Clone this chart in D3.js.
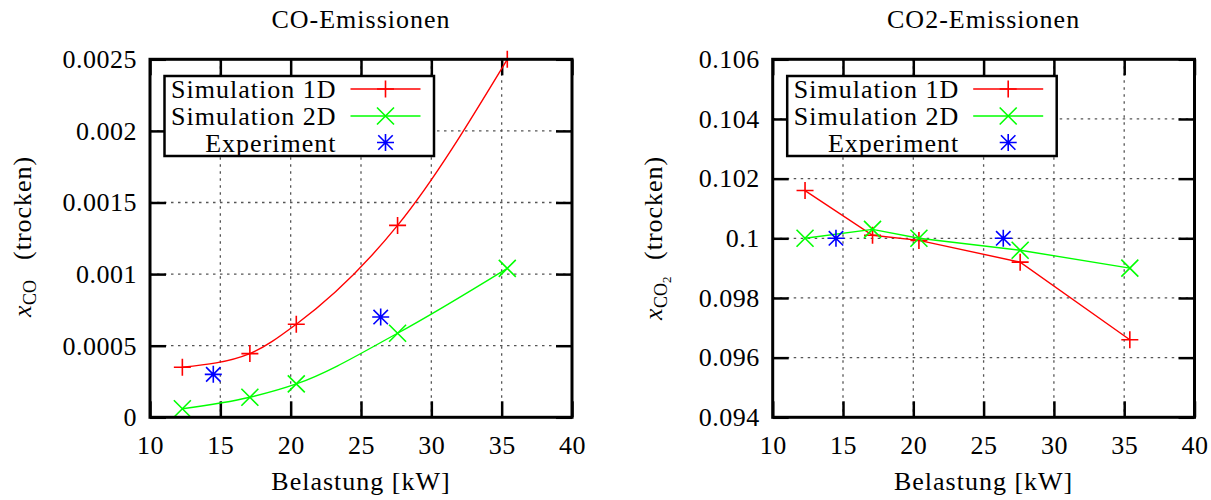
<!DOCTYPE html>
<html>
<head>
<meta charset="utf-8">
<script src="https://cdn.jsdelivr.net/npm/d3@7"></script>
<style>
  html, body { margin: 0; padding: 0; background: #fff; }
  svg { display: block; }
  svg text { font-family: "Liberation Serif", "Times New Roman", serif !important; fill: #000; }
</style>
</head>
<body>
<svg id="chart" width="1211" height="500" style="font-family: 'Liberation Serif', serif"></svg>
<script>
// Load points [kW]
const loadSim = [12.3, 17.1, 20.4, 27.6, 35.4];
const loadExp = [14.5, 26.4];

// CO mole fraction (dry)
const co1D  = [0.00035, 0.000445, 0.00065, 0.00134, 0.0025];
const co2D  = [0.00006, 0.00014, 0.000233, 0.000587, 0.00104];
const coExp = [0.0003, 0.0007];

// CO2 mole fraction (dry)
const co2Sim1D = [0.1016, 0.1001, 0.09993, 0.0992, 0.0966];
const co2Sim2D = [0.1, 0.1003, 0.1, 0.0996, 0.099];
const co2Exp   = [0.1, 0.1];

// Axis ticks and labels
const xTicks = [10, 15, 20, 25, 30, 35, 40];
const coTicks = [0, 0.0005, 0.001, 0.0015, 0.002, 0.0025];
const coTickLabels = ["0", "0.0005", "0.001", "0.0015", "0.002", "0.0025"];
const co2Ticks = [0.094, 0.096, 0.098, 0.1, 0.102, 0.104, 0.106];
const co2TickLabels = ["0.094", "0.096", "0.098", "0.1", "0.102", "0.104", "0.106"];

const seriesNames = ["Simulation 1D", "Simulation 2D", "Experiment"];
const seriesColors = ["#ff0000", "#00ff00", "#0000ff"];

const SERIF = "'Liberation Serif', 'Times New Roman', serif";
const svg = d3.select("#chart");
const FONT = 26;
const TICK = 16;
const MS = 8.5; // marker half-size

function marker(g, type, x, y, color) {
  const p = d3.path();
  if (type === "plus" || type === "star") {
    p.moveTo(x - MS, y); p.lineTo(x + MS, y);
    p.moveTo(x, y - MS); p.lineTo(x, y + MS);
  }
  if (type === "cross" || type === "star") {
    const d = type === "star" ? MS * 0.85 : MS;
    p.moveTo(x - d, y - d); p.lineTo(x + d, y + d);
    p.moveTo(x - d, y + d); p.lineTo(x + d, y - d);
  }
  g.append("path").attr("d", p.toString())
    .attr("stroke", color).attr("stroke-width", 1.6).attr("fill", "none");
}

function label(sel, size, spacing) {
  return sel.style("font-family", SERIF).style("font-size", size + "px")
    .style("letter-spacing", spacing + "px");
}

function panel(cfg) {
  const { left, right, top, bottom } = cfg;
  const x = d3.scaleLinear().domain([10, 40]).range([left, right]);
  const y = d3.scaleLinear().domain(cfg.yDomain).range([bottom, top]);
  const g = svg.append("g");

  // dotted grid
  const grid = g.append("g").attr("stroke", "#555").attr("stroke-width", 1.3)
    .attr("stroke-dasharray", "2.5,4.5");
  xTicks.slice(1, -1).forEach(t => grid.append("line")
    .attr("x1", x(t)).attr("x2", x(t)).attr("y1", top).attr("y2", bottom));
  cfg.yTicks.slice(1, -1).forEach(t => grid.append("line")
    .attr("x1", left).attr("x2", right).attr("y1", y(t)).attr("y2", y(t)));

  // axes with inward ticks on all four sides
  const styleAxis = sel => {
    sel.attr("font-family", null).attr("font-size", null);
    sel.select(".domain").remove();
    sel.selectAll(".tick line").attr("stroke", "#000").attr("stroke-width", 2.5);
    label(sel.selectAll(".tick text"), FONT, 0.5);
  };
  g.append("g").attr("transform", `translate(0,${bottom})`)
    .call(d3.axisBottom(x).tickValues(xTicks).tickSize(-TICK).tickPadding(18)
      .tickFormat(d3.format("d")))
    .call(styleAxis);
  g.append("g").attr("transform", `translate(0,${top})`)
    .call(d3.axisTop(x).tickValues(xTicks).tickSize(-TICK).tickFormat(""))
    .call(styleAxis);
  g.append("g").attr("transform", `translate(${left},0)`)
    .call(d3.axisLeft(y).tickValues(cfg.yTicks).tickSize(-TICK).tickPadding(13)
      .tickFormat((d, i) => cfg.yTickLabels[i]))
    .call(styleAxis);
  g.append("g").attr("transform", `translate(${right},0)`)
    .call(d3.axisRight(y).tickValues(cfg.yTicks).tickSize(-TICK).tickFormat(""))
    .call(styleAxis);

  // data series
  const line = d3.line().x(d => x(d[0])).y(d => y(d[1])).curve(cfg.curve);
  const sims = [
    { vals: cfg.sim1D, color: seriesColors[0], mk: "plus" },
    { vals: cfg.sim2D, color: seriesColors[1], mk: "cross" }
  ];
  sims.forEach(s => {
    const pts = loadSim.map((v, i) => [v, s.vals[i]]);
    g.append("path").attr("d", line(pts)).attr("fill", "none")
      .attr("stroke", s.color).attr("stroke-width", 1.4);
    pts.forEach(p => marker(g, s.mk, x(p[0]), y(p[1]), s.color));
  });
  loadExp.forEach((v, i) => marker(g, "star", x(v), y(cfg.exp[i]), seriesColors[2]));

  // legend
  const lx = left + 14.5, ly = 76, lw = 269.5, lh = 80;
  const lg = g.append("g");
  lg.append("rect").attr("x", lx).attr("y", ly).attr("width", lw).attr("height", lh)
    .attr("fill", "#fff").attr("stroke", "#000").attr("stroke-width", 2.5);
  const rowY = [13, 40, 66.5];
  const mks = ["plus", "cross", "star"];
  seriesNames.forEach((name, i) => {
    const ry = ly + rowY[i];
    label(lg.append("text").attr("x", lx + 172).attr("y", ry).attr("dy", "0.35em")
      .attr("text-anchor", "end"), FONT, 1).text(name);
    if (i < 2) {
      lg.append("line").attr("x1", lx + 186).attr("x2", lx + 256)
        .attr("y1", ry).attr("y2", ry)
        .attr("stroke", seriesColors[i]).attr("stroke-width", 1.4);
    }
    marker(lg, mks[i], lx + 221, ry, seriesColors[i]);
  });

  // frame
  g.append("rect").attr("x", left).attr("y", top)
    .attr("width", right - left).attr("height", bottom - top)
    .attr("fill", "none").attr("stroke", "#000").attr("stroke-width", 3);

  // title and axis labels
  label(g.append("text").attr("x", (left + right) / 2).attr("y", 28)
    .attr("text-anchor", "middle"), FONT, 1).text(cfg.title);
  label(g.append("text").attr("x", (left + right) / 2).attr("y", 490)
    .attr("text-anchor", "middle"), FONT, 1).text("Belastung [kW]");

  const yl = label(g.append("text")
    .attr("transform", `translate(${cfg.yLabelX},${cfg.yLabelY}) rotate(-90)`), FONT, 0);
  yl.append("tspan").attr("x", 0).attr("y", 0)
    .style("font-style", "italic").text("x");
  yl.append("tspan").attr("x", 12).attr("y", 5)
    .style("font-size", "18px").text("CO");
  if (cfg.sub2) {
    yl.append("tspan").attr("x", 37).attr("y", 9)
      .style("font-size", "13px").text("2");
  }
  yl.append("tspan").attr("x", cfg.parenX).attr("y", 0)
    .style("letter-spacing", "1px").text("(trocken)");
}

panel({
  left: 150, right: 572, top: 59.3, bottom: 417.3,
  yDomain: [0, 0.0025], yTicks: coTicks, yTickLabels: coTickLabels,
  sim1D: co1D, sim2D: co2D, exp: coExp,
  curve: d3.curveMonotoneX,
  title: "CO-Emissionen",
  yLabelX: 31, yLabelY: 317, parenX: 57, sub2: false
});

panel({
  left: 772.7, right: 1194.5, top: 59.3, bottom: 417.3,
  yDomain: [0.094, 0.106], yTicks: co2Ticks, yTickLabels: co2TickLabels,
  sim1D: co2Sim1D, sim2D: co2Sim2D, exp: co2Exp,
  curve: d3.curveLinear,
  title: "CO2-Emissionen",
  yLabelX: 662, yLabelY: 320, parenX: 60, sub2: true
});
</script>
</body>
</html>
